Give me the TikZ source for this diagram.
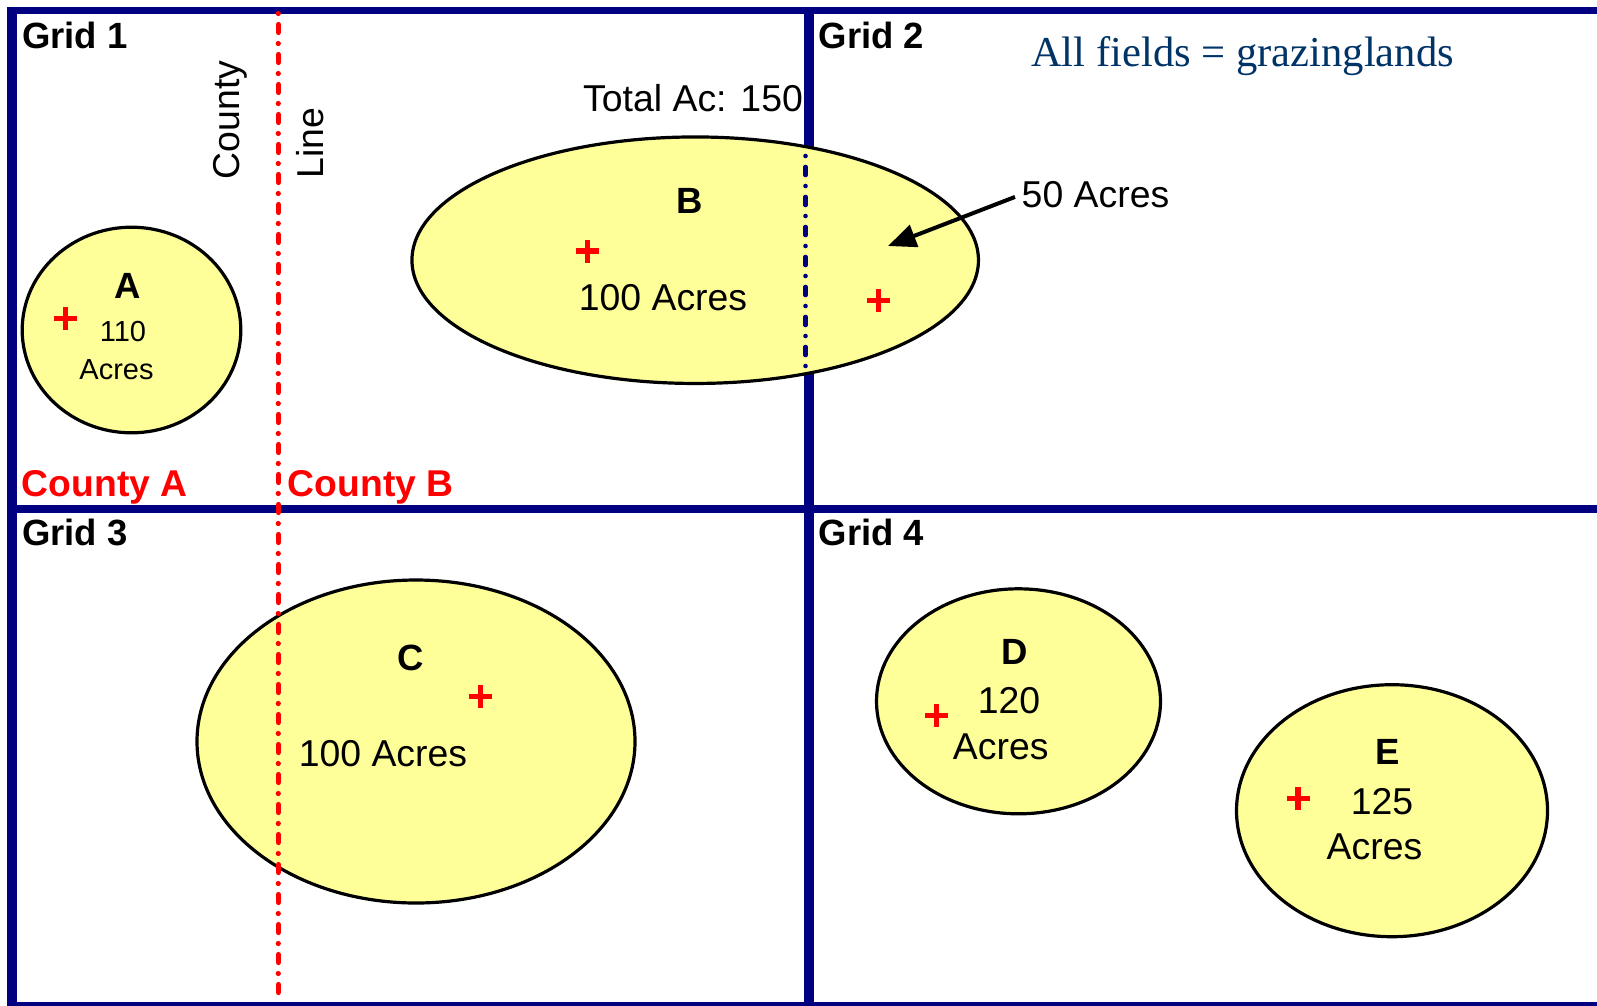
\documentclass[tikz,border=0pt]{standalone}
\usepackage{fontspec}
\setmainfont{Liberation Sans}
\newfontfamily\titlefont{Liberation Serif}
\usetikzlibrary{shapes.geometric,arrows.meta}

\definecolor{gridnavy}{RGB}{0,0,128}
\definecolor{fieldyellow}{RGB}{255,255,153}
\definecolor{titleblue}{RGB}{0,51,102}
\definecolor{countyred}{RGB}{255,0,0}

\begin{document}
\begin{tikzpicture}[
    %–––– GLOBAL STYLE TWEAKS ––––
    x=1pt, y=-1pt,                                   % pixel-like units, y downwards
    >=Latex,
    gridvline/.style = {draw=gridnavy, line width=10pt},
    gridhline/.style = {draw=gridnavy, line width=7.5pt},
    field/.style     = {ellipse, draw=black, line width=3.2pt,
                        fill=fieldyellow, inner sep=0pt},
    lbl/.style       = {inner sep=0pt, font=\fontsize{37.4}{41}\selectfont},
    bigletter/.style = {lbl, font=\fontsize{36.5}{40}\selectfont\bfseries},
    gridname/.style  = {bigletter, anchor=base west},
    countyname/.style= {bigletter, anchor=base west, text=countyred,
                        font=\fontsize{37.3}{41}\selectfont\bfseries},
    smalllbl/.style  = {inner sep=0pt, font=\fontsize{29}{32}\selectfont},
    countyline/.style= {line width=5.2pt, line cap=round,
                        dash pattern=on 0pt off 11pt on 8pt off 11pt},
    crossmark/.style = {draw=countyred, line width=5.5pt},
    pointer/.style   = {-{Triangle[length=28pt,width=23pt]}, line width=4pt, shorten <=7pt},
]
\useasboundingbox[fill=white] (0,0) rectangle (1597,1005);

%–––– GRID LINES ––––
\draw[gridvline] (12.3,7) -- (12.3,1010);
\draw[gridvline] (808.6,7) -- (808.6,1010);
\draw[gridhline] (7,10.7) -- (1600,10.7);
\draw[gridhline] (7,509) -- (1600,509);
\draw[gridhline] (7,1006) -- (1600,1006);

%–––– FIELDS ––––
\foreach \n/\x/\y/\w/\h in {
  A/131.5/330/218.6/205.6, B/695.2/260.2/566.5/246.5, C/416/741.5/438/323,
  D/1018.5/701.3/284/225, E/1392/810.7/311/252}
  \node (field\n) [field, minimum width=\w pt, minimum height=\h pt] at (\x,\y) {};

%–––– COUNTY LINE / SPLIT ––––
\draw[countyline, draw=countyred] (278.3,13.5) -- (278.3,992.5);
\draw[countyline, draw=gridnavy, line width=4.6pt] (805.5,156) -- (805.5,368);

%–––– CENTROIDS ––––
\foreach \px/\py in {65.5/318.5, 587.5/251, 878.5/300.5, 480.3/696.7, 936.4/715.3, 1298/798.7}
  \draw[crossmark] (\px-11.5,\py) -- (\px+11.5,\py) (\px,\py-11.5) -- (\px,\py+11.5);

%–––– LABELS ––––
\node (grid1) [gridname] at (22,48.5)     {Grid 1};
\node (grid2) [gridname] at (818.5,48.5)  {Grid 2};
\node (grid3) [gridname] at (22,545.5)    {Grid 3};
\node (grid4) [gridname] at (818.5,545.5) {Grid 4};

\node (countyA) [countyname] at (21.5,496.5)  {County A};
\node (countyB) [countyname] at (287.5,496.5) {County B};
\node (county)  [lbl, rotate=90, anchor=base] at (239,120)   {County};
\node (line)    [lbl, rotate=90, anchor=base] at (323,143.3) {Line};

\node (total) [lbl, anchor=base west] at (583,111.5) {Total Ac: 150};
\node (title) [anchor=base west, inner sep=0pt, text=titleblue,
               font=\titlefont\fontsize{42.6}{46}\selectfont] at (1031,66) {All fields = grazinglands};

\node (nameA) [bigletter, anchor=base] at (128,298.3)   {A};
\node (acA1)  [smalllbl, anchor=base]  at (123,341.7)   {110};
\node (acA2)  [smalllbl, anchor=base]  at (116.5,379.3) {Acres};

\node (nameB) [bigletter, anchor=base] at (690,213.3)   {B};
\node (acB)   [lbl, anchor=base]       at (663,310.7)   {100 Acres};
\node (lbl50) [lbl, anchor=base west]  at (1021.5,207.3) {50 Acres};

\node (nameC) [bigletter, anchor=base] at (410.5,670)   {C};
\node (acC)   [lbl, anchor=base]       at (383,766.7)   {100 Acres};

\node (nameD) [bigletter, anchor=base] at (1015,664.3)  {D};
\node (acD1)  [lbl, anchor=base]       at (1009,713.3)  {120};
\node (acD2)  [lbl, anchor=base]       at (1000.7,759)  {Acres};

\node (nameE) [bigletter, anchor=base] at (1388,764)    {E};
\node (acE1)  [lbl, anchor=base]       at (1382,814)    {125};
\node (acE2)  [lbl, anchor=base]       at (1374.5,859.3) {Acres};

%–––– ARROW ––––
\coordinate (tip50) at (888,246);
\draw[pointer] (lbl50.west) -- (tip50);
\end{tikzpicture}
\end{document}
